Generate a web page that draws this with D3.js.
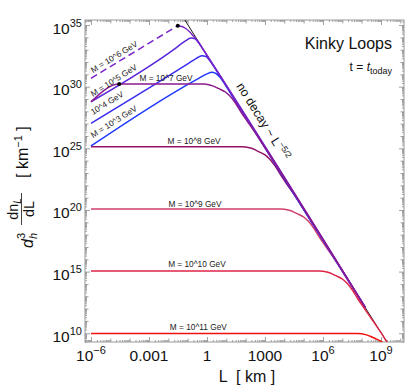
<!DOCTYPE html>
<html>
<head>
<meta charset="utf-8">
<script src="https://cdn.jsdelivr.net/npm/d3@7"></script>
<style>
  body { margin: 0; background: #fff; }
  svg { display: block; font-family: "Liberation Sans", Arial, sans-serif; }
</style>
</head>
<body>
<svg id="chart" width="413" height="391"></svg>
<script>
// all values are log10: [log10 L (km), log10 d^3 dn/dL (km^-1)]
const xMajor = [-6, -3, 0, 3, 6, 9];
const xMajorLabels = [["10", "−6"], ["0.001"], ["1"], ["1000"], ["10", "6"], ["10", "9"]];
const yMajor = [10, 15, 20, 25, 30, 35];

const noDecay = [[-1.3, 35.8], [9.6, 8.55]];

const m3 = [[-6, 25.19], [-0.5, 30.62], [0, 31.04], [0.24, 31.17], [0.45, 31.08], [0.65, 30.8],
  [0.85, 30.4], [1.05, 29.9], [1.3, 29.28], [2, 27.55], [8.2, 12.05]];
const m4 = [[-6, 27.03], [-1.0, 31.85], [-0.55, 32.3], [-0.27, 32.52], [-0.05, 32.45], [0.15, 32.1],
  [0.35, 31.65], [0.55, 31.15], [0.8, 30.53], [8.2, 12.05]];
const m5 = [[-6, 28.78], [-1.6, 33.15], [-1.15, 33.68], [-0.82, 33.94], [-0.62, 33.88], [-0.45, 33.6],
  [-0.28, 33.22], [-0.05, 32.66], [8.2, 12.05]];
const m6dash = [[-6, 30.68], [-1.51, 34.95]];
const m6 = [[-1.51, 34.95], [-1.3, 34.88], [-1.1, 34.72], [-0.9, 34.45], [-0.7, 34.1], [-0.5, 33.75],
  [-0.3, 33.27], [8.2, 12.05]];
const m7 = [[-6, 28.78], [-4.54, 30.22], [-0.2, 30.22], [0.15, 30.14], [0.45, 29.97], [0.7, 29.77],
  [0.95, 29.57], [1.2, 29.22], [1.45, 28.72], [1.75, 27.97], [2.05, 27.27], [2.45, 26.37], [3.0, 25.05],
  [8.2, 12.05]];
const m8 = [[-6, 25.12], [1.8, 25.12], [2.2, 25.04], [2.5, 24.87], [2.75, 24.67], [3.0, 24.47], [3.25, 24.12],
  [3.5, 23.62], [3.8, 22.87], [4.1, 22.17], [4.5, 21.27], [5.0, 20.05], [5.5, 18.8]];
const m9 = [[-6, 20.08], [3.8, 20.08], [4.2, 20.0], [4.5, 19.83], [4.75, 19.63], [5.0, 19.43], [5.25, 19.08],
  [5.5, 18.58], [5.8, 17.83], [6.1, 17.13], [6.5, 16.23], [7.0, 15.03], [7.5, 13.8]];
const m10 = [[-6, 15.05], [5.8, 15.05], [6.2, 14.97], [6.5, 14.8], [6.75, 14.6], [7.0, 14.4], [7.25, 14.05],
  [7.5, 13.55], [7.8, 12.8], [8.1, 12.1], [8.5, 11.2], [9.0, 10.05], [9.5, 8.8]];
const m11 = [[-6, 9.97], [7.8, 9.97], [8.2, 9.89], [8.5, 9.72], [8.77, 9.52], [9.03, 9.32], [9.28, 8.97],
  [9.53, 8.47]];
const dots = [[-4.54, 30.22], [-1.51, 34.95]];

const C = { m3: "#1f38ff", m4: "#3a2cf0", m5: "#5a26dc", m6: "#7a24c8", m7: "#8b1a8e",
  m8: "#931268", m9: "#d0406c", m10: "#e02448", m11: "#f01010" };

const box = { l: 85, r: 404, t: 20, b: 342 };
const x = d3.scaleLinear().domain([-6.31, 10.19]).range([box.l, box.r]);
const y = d3.scaleLinear().domain([9.29, 35.41]).range([box.b, box.t]);

const svg = d3.select("#chart");
svg.append("defs").append("clipPath").attr("id", "clip")
  .append("rect").attr("x", box.l).attr("y", box.t).attr("width", box.r - box.l).attr("height", box.b - box.t);

// ticks: majors, other decades, 2..9 subdivisions
const xDec = d3.range(-6, 11).filter((v) => !xMajor.includes(v));
const yDec = d3.range(10, 36).filter((v) => !yMajor.includes(v));
const subs = (lo, hi) => d3.range(lo, hi).flatMap((n) => d3.range(2, 10).map((k) => n + Math.log10(k)));
const xSub = subs(-7, 11).filter((v) => v > -6.31 && v < 10.19);
const ySub = subs(9, 36).filter((v) => v > 9.29 && v < 35.41);

const TICK = "#8a8a8a";
function tickSet(axisFn, scale, vals, len, tr) {
  const g = svg.append("g").attr("transform", tr)
    .call(axisFn(scale).tickValues(vals).tickSize(len).tickFormat(""));
  g.select(".domain").remove();
  g.selectAll("line").attr("stroke", TICK).attr("stroke-width", 0.8);
}
[[xMajor, 5], [xDec, 3.5], [xSub, 2]].forEach(([v, len]) => {
  tickSet(d3.axisBottom, x, v, -len, `translate(0,${box.b})`);
  tickSet(d3.axisTop, x, v, -len, `translate(0,${box.t})`);
});
[[yMajor, 5], [yDec, 3.5], [ySub, 2]].forEach(([v, len]) => {
  tickSet(d3.axisLeft, y, v, -len, `translate(${box.l},0)`);
  tickSet(d3.axisRight, y, v, -len, `translate(${box.r},0)`);
});

svg.append("rect").attr("x", box.l).attr("y", box.t).attr("width", box.r - box.l).attr("height", box.b - box.t)
  .attr("fill", "none").attr("stroke", "#999").attr("stroke-width", 1);

// tick labels
const xl = svg.append("g").attr("font-size", 15.5).attr("fill", "#111");
xMajor.forEach((v, i) => {
  const t = xl.append("text").attr("x", x(v)).attr("y", 361).attr("text-anchor", "middle");
  const lab = xMajorLabels[i];
  t.append("tspan").text(lab[0]);
  if (lab[1]) t.append("tspan").attr("dy", -7).attr("font-size", 11).text(lab[1]);
});
const yl = svg.append("g").attr("font-size", 15.5).attr("fill", "#111");
yMajor.forEach((v) => {
  const t = yl.append("text").attr("x", 82).attr("y", y(v) + 8.5).attr("text-anchor", "end");
  t.append("tspan").text("10");
  t.append("tspan").attr("dy", -7).attr("font-size", 11).text(String(v));
});

// curves
const plot = svg.append("g").attr("clip-path", "url(#clip)");
const line = d3.line().x((d) => x(d[0])).y((d) => y(d[1])).curve(d3.curveMonotoneX);
const draw = (data, color, w, dash) => plot.append("path").datum(data)
  .attr("fill", "none").attr("stroke", color).attr("stroke-width", w)
  .attr("stroke-dasharray", dash || null).attr("d", line);

draw(noDecay, "#000", 0.9);
draw(m8, C.m8, 1.5);
draw(m9, C.m9, 1.5);
draw(m3, C.m3, 1.5);
draw(m4, C.m4, 1.5);
draw(m5, C.m5, 1.5);
draw(m6dash, C.m6, 1.5, "7,4");
draw(m6, C.m6, 1.5);
draw(m7, C.m7, 1.5);
draw(m10, C.m10, 1.5);
draw(m11, C.m11, 1.5);

plot.selectAll(".dot").data(dots).enter().append("circle")
  .attr("cx", (d) => x(d[0])).attr("cy", (d) => y(d[1])).attr("r", 2).attr("fill", "#000");

// curve labels
const angle = (a, b) => Math.atan2(y(b[1]) - y(a[1]), x(b[0]) - x(a[0])) * 180 / Math.PI;
const slopeLabels = [
  { text: "M = 10^6 GeV", at: [-5.9, 31.1], seg: m6dash },
  { text: "M = 10^5 GeV", at: [-5.9, 29.16], seg: m5 },
  { text: "10^4 GeV", at: [-5.9, 27.7], seg: m4 },
  { text: "M = 10^3 GeV", at: [-5.9, 25.82], seg: m3 },
];
const flatLabels = [
  { text: "M = 10^7 GeV", at: [-2.12, 30.46] },
  { text: "M = 10^8 GeV", at: [-0.67, 25.39] },
  { text: "M = 10^9 GeV", at: [-0.62, 20.24] },
  { text: "M = 10^10 GeV", at: [-0.52, 15.34] },
  { text: "M = 10^11 GeV", at: [-0.45, 10.23] },
];
const lab = svg.append("g").attr("font-size", 8.3).attr("fill", "#222");
slopeLabels.forEach((l) => {
  lab.append("text").attr("transform", `translate(${x(l.at[0])},${y(l.at[1])}) rotate(${angle(l.seg[0], l.seg[1])})`)
    .text(l.text);
});
flatLabels.forEach((l) => {
  lab.append("text").attr("x", x(l.at[0])).attr("y", y(l.at[1])).attr("text-anchor", "middle").text(l.text);
});

// no decay annotation
const nd = svg.append("text").attr("font-size", 12.5).attr("fill", "#111")
  .attr("transform", `translate(${x(1.5)},${y(30.06)}) rotate(${angle(noDecay[0], noDecay[1])})`);
nd.append("tspan").text("no decay ~ L");
nd.append("tspan").attr("dy", -5).attr("font-size", 8.5).text("−5/2");

// title block
svg.append("text").attr("x", 392).attr("y", 49).attr("text-anchor", "end")
  .attr("font-size", 16).attr("fill", "#111").text("Kinky Loops");
const tt = svg.append("text").attr("x", 392).attr("y", 71).attr("text-anchor", "end")
  .attr("font-size", 12).attr("fill", "#111").style("white-space", "pre");
tt.append("tspan").text("t = ");
tt.append("tspan").attr("font-style", "italic").text("t");
tt.append("tspan").attr("dy", 3).attr("font-size", 9).text("today");

// axis titles
svg.append("text").attr("x", 247).attr("y", 382).attr("text-anchor", "middle")
  .attr("font-size", 16).attr("fill", "#111").style("white-space", "pre").text("L  [ km ]");

const yt = svg.append("g").attr("transform", "rotate(-90)").attr("fill", "#111");
yt.append("text").attr("x", -248).attr("y", 33).attr("font-size", 16).attr("font-style", "italic").text("d");
yt.append("text").attr("x", -239).attr("y", 25).attr("font-size", 11).text("3");
yt.append("text").attr("x", -239).attr("y", 37).attr("font-size", 11).attr("font-style", "italic").text("h");
const num = yt.append("text").attr("x", -209).attr("y", 18).attr("font-size", 14.5).attr("text-anchor", "middle");
num.append("tspan").text("dn");
num.append("tspan").attr("dy", 3).attr("font-size", 10).attr("font-style", "italic").text("L");
yt.append("line").attr("x1", -225).attr("x2", -193).attr("y1", 21.5).attr("y2", 21.5)
  .attr("stroke", "#111").attr("stroke-width", 0.8);
yt.append("text").attr("x", -209).attr("y", 34).attr("font-size", 14.5).attr("text-anchor", "middle").text("dL");
const unit = yt.append("text").attr("x", -178).attr("y", 28).attr("font-size", 16).style("white-space", "pre");
unit.append("tspan").text("[ km");
unit.append("tspan").attr("dy", -6).attr("font-size", 11).text("−1");
unit.append("tspan").attr("dy", 6).text(" ]");
</script>
</body>
</html>
